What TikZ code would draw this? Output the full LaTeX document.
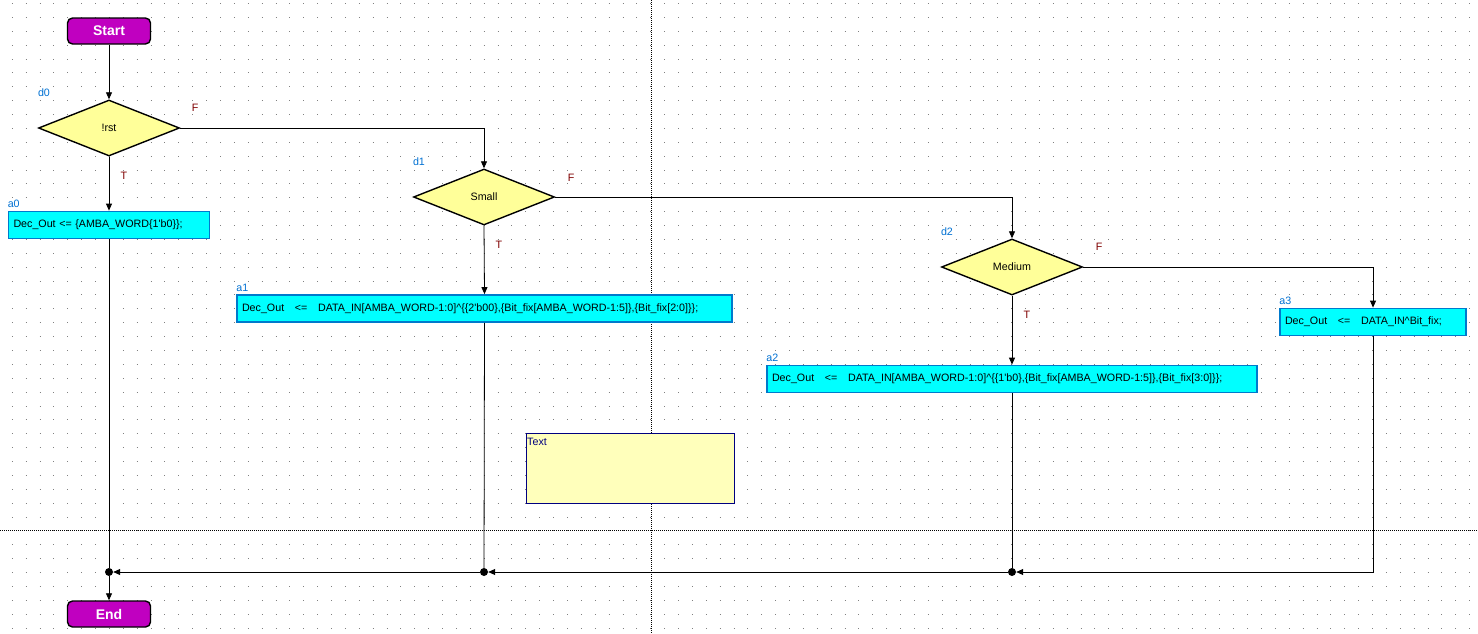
\documentclass[tikz,border=0pt]{standalone}
\usepackage{fontspec}
\setmainfont{Liberation Sans}
\usetikzlibrary{positioning, shapes.geometric, arrows.meta, calc}

\definecolor{termfill}{RGB}{192,0,192}
\definecolor{decfill}{RGB}{255,255,153}
\definecolor{actfill}{RGB}{0,255,255}
\definecolor{actline}{RGB}{0,122,204}
\definecolor{tagblue}{RGB}{0,112,210}
\definecolor{branchred}{RGB}{128,0,0}
\definecolor{notefill}{RGB}{255,255,187}
\definecolor{noteline}{RGB}{0,0,128}
\definecolor{griddot}{RGB}{128,128,128}

\begin{document}
\begin{tikzpicture}[x=1pt, y=-1pt,
        every node/.style={font=\fontsize{10.7}{12}\selectfont},
        terminal/.style={rectangle, rounded corners=5pt, draw=black, line width=1.4pt, fill=termfill, minimum width=83pt, minimum height=26pt, text=white, font=\fontsize{14}{16}\selectfont\bfseries},
        decision/.style={diamond, draw=black, line width=1.4pt, fill=decfill, inner sep=0pt, minimum width=141pt, minimum height=56pt},
        action/.style={rectangle, draw=actline, line width=1.8pt, fill=actfill, minimum height=27pt, inner xsep=5pt, align=left},
        tag/.style={text=tagblue, inner sep=0pt, anchor=base west, yshift=3pt},
        branch/.style={text=branchred, inner sep=0pt},
        junction/.style={circle, fill=black, inner sep=0pt, minimum size=8pt},
        note/.style={rectangle, draw=noteline, line width=1pt, fill=notefill, minimum width=208pt, minimum height=70pt},
        notetext/.style={anchor=north west, text=noteline, inner xsep=1.5pt, inner ysep=5.5pt},
        flow/.style={-{Triangle[length=7pt, width=6pt]}, line width=0.8pt},
        link/.style={line width=0.8pt},
        dotrow/.style={griddot, line width=1pt, dash pattern=on 1pt off 12.88pt},
        pagebreak/.style={black, line width=1pt, dash pattern=on 1pt off 1pt}]
    \useasboundingbox (0,0) rectangle (1478,633);

    % grid and page breaks
    \foreach \k in {0,...,45}
        \draw[dotrow] (11.8, 3.5+13.88*\k) -- (1478, 3.5+13.88*\k);
    \draw[pagebreak] (651.3,0) -- (651.3,633);
    \draw[pagebreak] (0,530) -- (1478,530);

    % states
    \node[terminal] (start) at (109, 31) {Start};
    \node[decision] (d0) at (109, 128) {!rst};
    \node[decision] (d1) at (484, 197) {Small};
    \node[decision] (d2) at (1012, 267) {Medium};
    \node[action, text width=191pt] (a0) at (109, 225) {Dec\_Out <= \{AMBA\_WORD\{1\textquotesingle b0\}\};};
    \node[action, text width=485pt] (a1) at (484.5, 308.5) {Dec\_Out\ \ \ <=\ \ \ DATA\_IN[AMBA\_WORD-1:0]\textasciicircum\{\{2\textquotesingle b00\},\{Bit\_fix[AMBA\_WORD-1:5]\},\{Bit\_fix[2:0]\}\};};
    \node[action, text width=480pt] (a2) at (1012, 379) {Dec\_Out\ \ \ <=\ \ \ DATA\_IN[AMBA\_WORD-1:0]\textasciicircum\{\{1\textquotesingle b0\},\{Bit\_fix[AMBA\_WORD-1:5]\},\{Bit\_fix[3:0]\}\};};
    \node[action, text width=176pt] (a3) at (1373, 322) {Dec\_Out\ \ \ <=\ \ \ DATA\_IN\textasciicircum Bit\_fix;};
    \node[terminal] (stop) at (109, 614) {End};
    \node[note, label={[notetext]north west:Text}] (note) at (630, 468) {};

    % names
    \node[tag] (d0tag) at (d0.west |- d0.north) {d0};
    \node[tag] (d1tag) at (d1.west |- d1.north) {d1};
    \node[tag] (d2tag) at (d2.west |- d2.north) {d2};
    \node[tag] (a0tag) at (a0.north west) {a0};
    \node[tag] (a1tag) at (a1.north west) {a1};
    \node[tag] (a2tag) at (a2.north west) {a2};
    \node[tag] (a3tag) at (a3.north west) {a3};

    % branch labels
    \node[branch] (d0f) at ($(d0.east)+(15,-20)$) {F};
    \node[branch] (d0t) at ($(d0.south)+(15,19)$) {T};
    \node[branch] (d1f) at ($(d1.east)+(16,-19)$) {F};
    \node[branch] (d1t) at ($(d1.south)+(15,19)$) {T};
    \node[branch] (d2f) at ($(d2.east)+(16,-20)$) {F};
    \node[branch] (d2t) at ($(d2.south)+(15,19)$) {T};

    % merge points
    \node[junction] (j0) at (109, 572) {};
    \node[junction] (j1) at (484, 572) {};
    \node[junction] (j2) at (1012, 572) {};

    \draw[flow] (start) -- (d0);
    \draw[flow] (d0.south) -- (a0.north);
    \draw[flow] (d0.east) -| (d1.north);
    \draw[flow] (d1.south) -- (a1.north);
    \draw[flow] (d1.east) -| (d2.north);
    \draw[flow] (d2.south) -- (a2.north);
    \draw[flow] (d2.east) -| (a3.north);
    \draw[link] (a0.south) -- (j0);
    \draw[link] (a1.south) -- (j1);
    \draw[link] (a2.south) -- (j2);
    \draw[flow] (a3.south) |- (j2);
    \draw[flow] (j2) -- (j1);
    \draw[flow] (j1) -- (j0);
    \draw[flow] (j0) -- (stop);
\end{tikzpicture}
\end{document}
